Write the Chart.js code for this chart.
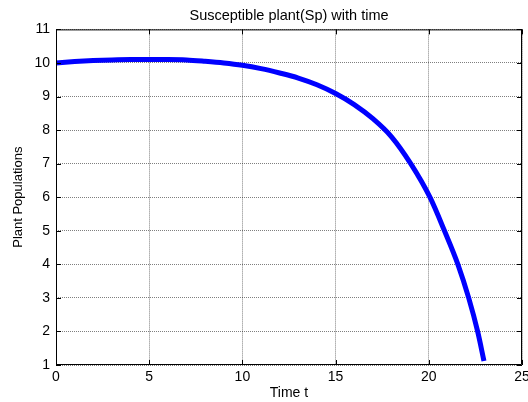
<!DOCTYPE html>
<html>
<head>
<meta charset="utf-8">
<script src="https://cdn.jsdelivr.net/npm/chart.js@4/dist/chart.umd.min.js"></script>
<style>
  html, body { margin: 0; padding: 0; background: #fff; }
  #wrap { width: 528px; height: 402px; }
</style>
</head>
<body>
<div id="wrap"><canvas id="spChart" width="528" height="402"></canvas></div>
<script>
/* Susceptible plant population over time */
const timeT = [0, 1, 2, 3, 4, 5, 6, 7, 8, 9, 10, 11, 12, 13, 14, 15, 16, 17, 18, 19.03, 20.06, 20.84, 21.56, 22.14, 22.62, 22.96];
const plantSp = [10.0, 10.04, 10.07, 10.09, 10.1, 10.1, 10.1, 10.09, 10.05, 10.0, 9.93, 9.83, 9.7, 9.55, 9.35, 9.09, 8.76, 8.34, 7.8, 7.0, 6.0, 5.0, 4.0, 3.0, 2.0, 1.12];
const xTicks = [0, 5, 10, 15, 20, 25];
const yTicks = [1, 2, 3, 4, 5, 6, 7, 8, 9, 10, 11];

const FONT = "'Liberation Sans', Arial, sans-serif";

// box round the plot area plus small inward ticks, like a matlab axes
const axesBox = {
  id: "axesBox",
  afterDraw(chart) {
    const { ctx, chartArea: a, scales } = chart;
    ctx.save();
    ctx.strokeStyle = "#000";
    ctx.lineWidth = 1;
    ctx.beginPath();
    ctx.rect(a.left + 0.5, a.top + 0.5, a.right - a.left - 1, a.bottom - a.top - 1);
    ctx.stroke();
    ctx.beginPath();
    const tick = 5;
    xTicks.forEach((v) => {
      const px = Math.round(scales.x.getPixelForValue(v)) + 0.5;
      ctx.moveTo(px, a.bottom);
      ctx.lineTo(px, a.bottom - tick);
      ctx.moveTo(px, a.top);
      ctx.lineTo(px, a.top + tick);
    });
    yTicks.forEach((v) => {
      const py = Math.round(scales.y.getPixelForValue(v)) + 0.5;
      ctx.moveTo(a.left, py);
      ctx.lineTo(a.left + tick, py);
      ctx.moveTo(a.right, py);
      ctx.lineTo(a.right - tick, py);
    });
    ctx.stroke();
    ctx.restore();
  },
};

const gridStyle = {
  color: "rgba(0,0,0,0.5)",
  lineWidth: 1,
  drawTicks: false,
};

new Chart(document.getElementById("spChart"), {
  type: "line",
  data: {
    datasets: [
      {
        data: timeT.map((t, i) => ({ x: t, y: plantSp[i] })),
        borderColor: "#0000ff",
        borderWidth: 5,
        borderCapStyle: "butt",
        pointRadius: 0,
        cubicInterpolationMode: "monotone",
        fill: false,
      },
    ],
  },
  options: {
    responsive: false,
    animation: false,
    devicePixelRatio: 1,
    layout: { padding: { left: 0, right: 6, top: 0, bottom: 0 } },
    plugins: {
      legend: { display: false },
      tooltip: { enabled: false },
      title: {
        display: true,
        fullSize: false,
        text: "Susceptible plant(Sp) with time",
        color: "#000",
        font: { family: FONT, size: 14.5, weight: "normal", lineHeight: 1.2 },
        padding: { top: 7, bottom: 5 },
      },
    },
    scales: {
      x: {
        type: "linear",
        min: 0,
        max: 25,
        afterBuildTicks: (scale) => {
          scale.ticks = xTicks.map((v) => ({ value: v }));
        },
        afterFit: (scale) => {
          scale.height = 37;
          scale.paddingLeft = 0;
          scale.paddingRight = 0;
        },
        grid: gridStyle,
        border: { display: false, dash: [1, 1] },
        ticks: {
          color: "#000",
          padding: 4,
          maxRotation: 0,
          font: { family: FONT, size: 14 },
        },
        title: {
          display: true,
          text: "Time t",
          color: "#000",
          font: { family: FONT, size: 14 },
          padding: { top: 0, bottom: 0 },
        },
      },
      y: {
        type: "linear",
        min: 1,
        max: 11,
        afterBuildTicks: (scale) => {
          scale.ticks = yTicks.map((v) => ({ value: v }));
        },
        afterFit: (scale) => {
          scale.width = 56;
          scale.paddingTop = 0;
          scale.paddingBottom = 0;
        },
        grid: gridStyle,
        border: { display: false, dash: [1, 1] },
        ticks: {
          color: "#000",
          padding: 6,
          font: { family: FONT, size: 14 },
        },
        title: {
          display: true,
          text: "Plant Populations",
          color: "#000",
          font: { family: FONT, size: 13 },
          padding: { top: 11, bottom: 0 },
        },
      },
    },
  },
  plugins: [axesBox],
});
</script>
</body>
</html>
